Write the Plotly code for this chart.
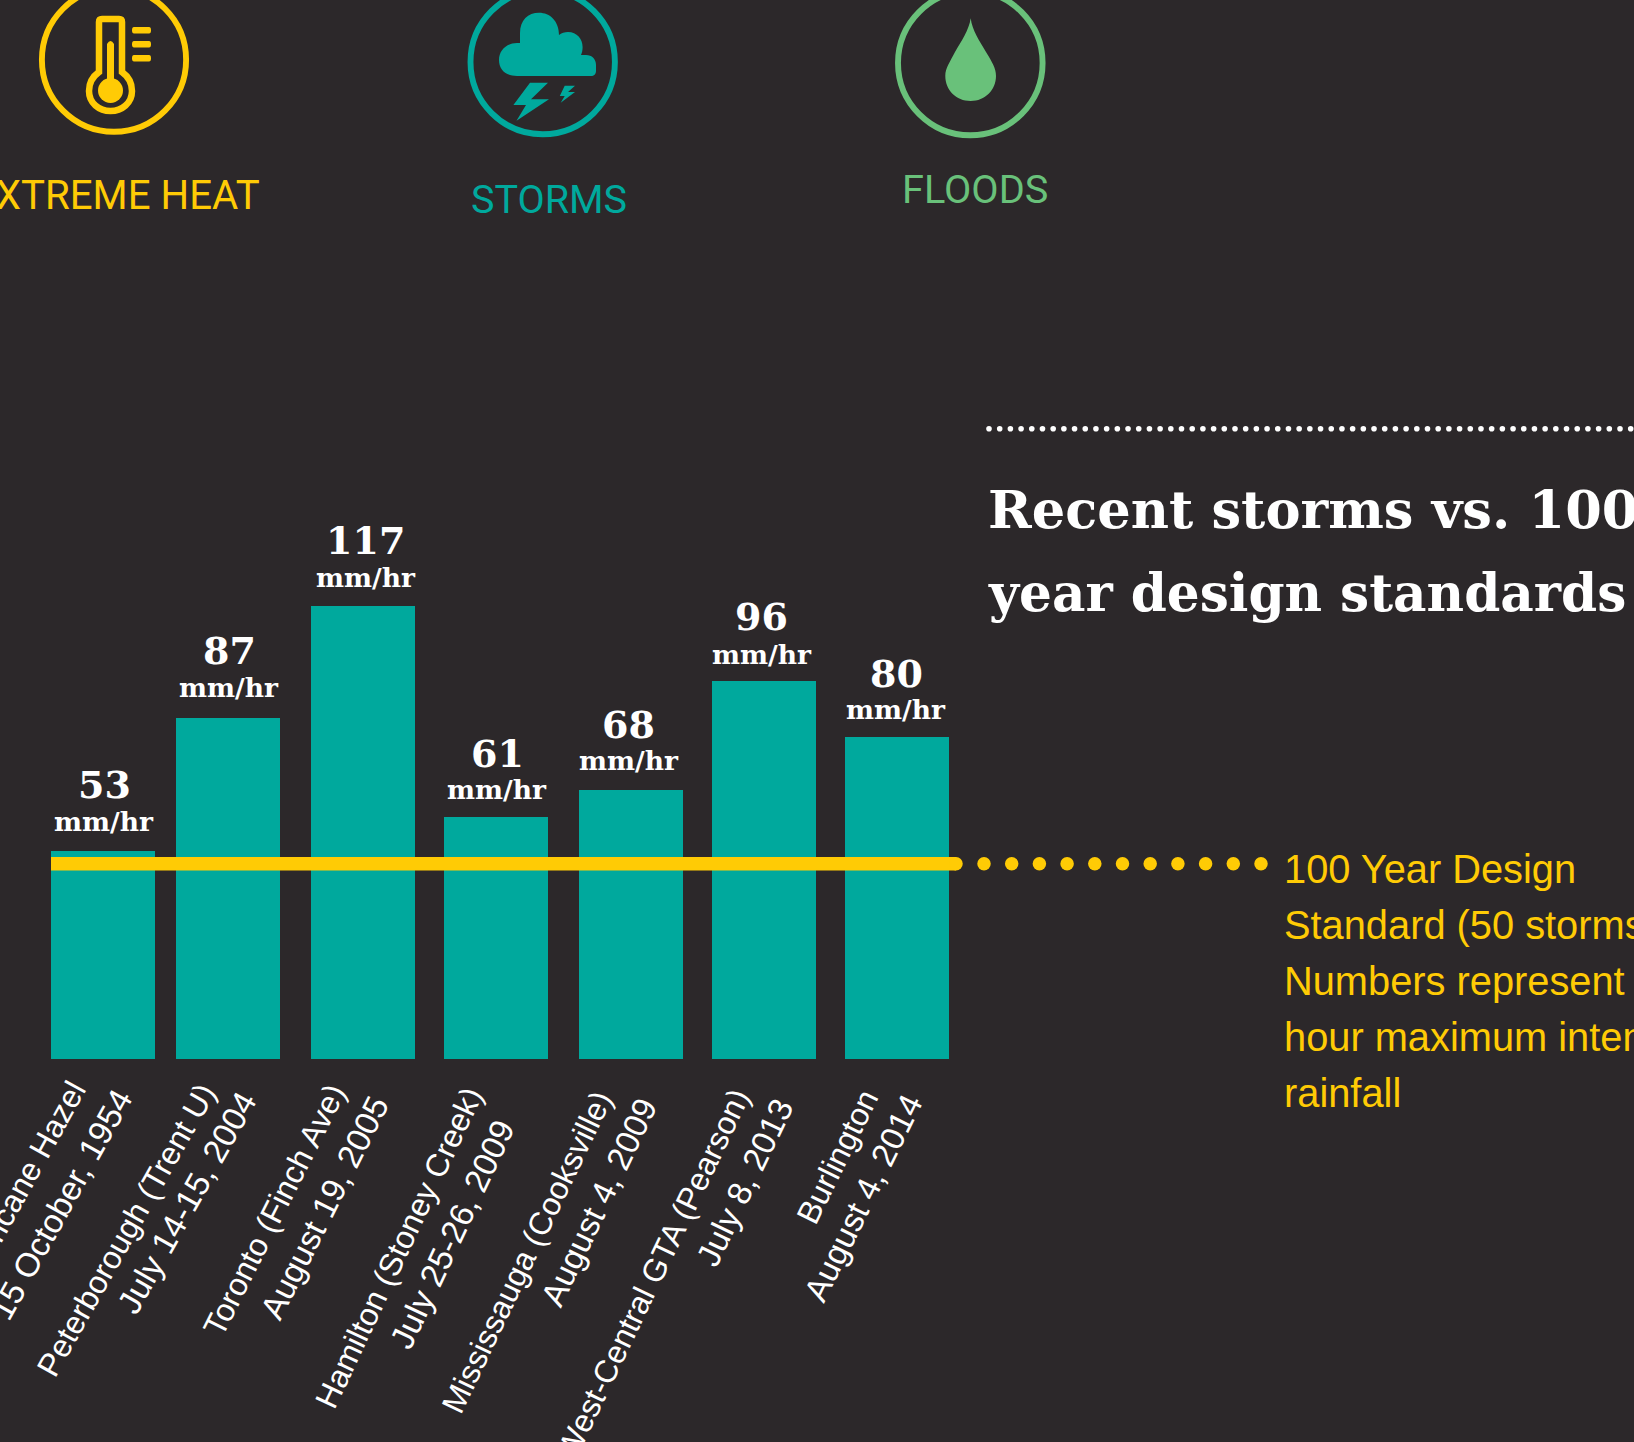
import numpy as np
import plotly.graph_objects as go

# ---------- data ----------
categories = ["Hurricane Hazel", "Peterborough (Trent U)", "Toronto (Finch Ave)",
              "Hamilton (Stoney Creek)", "Mississauga (Cooksville)",
              "West-Central GTA (Pearson)", "Burlington"]
dates = ["15 October, 1954", "July 14-15, 2004", "August 19, 2005", "July 25-26, 2009",
         "August 4, 2009", "July 8, 2013", "August 4, 2014"]
value_labels = ["53", "87", "117", "61", "68", "96", "80"]
bar_heights = [53.1, 87.1, 115.7, 61.8, 68.7, 96.55, 82.2]
design_standard = 49.8
unit = "mm/hr"
hazard_names = ["EXTREME HEAT", "STORMS", "FLOODS"]
title_lines = ["Recent storms vs. 100", "year design standards"]
note_lines = ["100 Year Design", "Standard (50 storms)", "Numbers represent 1", "hour maximum intensity", "rainfall"]

# ---------- layout constants (pixels) ----------
W, H = 1634, 1442
BG, TEAL, YEL, GRN = "#2c282a", "#00a99d", "#ffcb05", "#69c17a"
PX_PER_UNIT = 3.91
BASE_PX = 1058.5
PITCH, FIRST = 132.33, 103.0
BAR_W = 104.0
bar_left_px = [51, 176, 311, 444, 579, 712, 845]
label_px = [((21.6, 1184), (60.8, 1204)), ((126, 1229.5), (187, 1202.5)), ((274.4, 1210), (324.4, 1207)),
            ((398.8, 1248), (452, 1234)), ((527, 1252), (598.5, 1202)), ((653, 1274), (744.5, 1182)),
            ((837, 1156.5), (863, 1198.5))]
label_angle = [-61, -60.6, -63.3, -64.8, -64.4, -64.4, -63.8]
value_dx = [1, 1, 2.7, 1, -2.3, -2.3, -1]
number_dy = [0, -1, 0, 3, 1, 2, 2]
unit_dy = [0, -1, 0, 2, 0, 3, 1]

fig = go.Figure()
offsets = [(l - FIRST - i * PITCH) / PITCH for i, l in enumerate(bar_left_px)]
fig.add_trace(go.Bar(x=categories, y=bar_heights, width=BAR_W / PITCH, offset=offsets,
                     marker=dict(color=TEAL, line=dict(width=0)), showlegend=False))
fig.add_trace(go.Scatter(x=[51, 956], y=[design_standard] * 2, xaxis="x2", yaxis="y", mode="lines",
                         line=dict(color=YEL, width=13.5), showlegend=False))
fig.add_trace(go.Scatter(x=[956] + np.linspace(984, 1261, 11).tolist(),
                         y=[design_standard] * 12, xaxis="x2", yaxis="y", mode="markers",
                         marker=dict(color=YEL, size=13.5, line=dict(width=0)), showlegend=False))
dot_x = np.linspace(989, 1630.7, 61).tolist()
fig.add_trace(go.Scatter(x=dot_x, y=[428.7] * len(dot_x),
                         xaxis="x2", yaxis="y2", mode="markers",
                         marker=dict(color="white", size=5.6, line=dict(width=0)), showlegend=False))

ann = []
def text(x, y, s, size, color, family, xa="left", ya="middle", angle=0):
    ann.append(dict(x=x, y=y, xref="x2", yref="y2", text=s, showarrow=False, xanchor=xa, yanchor=ya,
                    textangle=angle, font=dict(size=size, color=color, family=family)))

SANS, SERIF, GOTH = "Liberation Sans", "DejaVu Serif", "Roboto"
text(261.5, 195, hazard_names[0], 40.2, YEL, GOTH, "right")
text(469, 199.5, hazard_names[1], 39.5, TEAL, GOTH)
text(899.5, 189.5, hazard_names[2], 39.7, GRN, GOTH)
title_size = [52.6, 51.7]
title_y = [509, 592.5]
for i, t in enumerate(title_lines):
    text(986, title_y[i], f"<b>{t}</b>", title_size[i], "white", SERIF)
for i, t in enumerate(note_lines):
    text(1282, 869 + 56 * i, t, 39.8, YEL, SANS)
for i in range(7):
    (a, b) = label_px[i]
    text(a[0], a[1], categories[i], 32, "white", SANS, "center", angle=label_angle[i])
    text(b[0], b[1], dates[i], 33.5, "white", SANS, "center", angle=label_angle[i])
    top = BASE_PX - bar_heights[i] * PX_PER_UNIT
    cx = bar_left_px[i] + BAR_W / 2 + value_dx[i]
    text(cx, top - 66 + number_dy[i], f"<b>{value_labels[i]}</b>", 38, "white", SERIF, "center")
    text(cx, top - 29 + unit_dy[i], f"<b>{unit}</b>", 26.5, "white", SERIF, "center")

shapes = []
def circ(cx, cy, r, color, lw=0, fill=None):
    shapes.append(dict(type="circle", xref="x2", yref="y2", x0=cx - r, x1=cx + r, y0=cy - r, y1=cy + r,
                       line=dict(color=color, width=lw), fillcolor=fill or "rgba(0,0,0,0)"))
def path(d, fill=None, line=None, lw=0):
    shapes.append(dict(type="path", xref="x2", yref="y2", path=d, fillcolor=fill or "rgba(0,0,0,0)",
                       line=dict(color=line or "rgba(0,0,0,0)", width=lw)))
circ(114, 59.7, 72.1, YEL, 5.9)
circ(542.7, 62, 72.2, TEAL, 5.9)
circ(970.3, 63, 72.3, GRN, 5.9)
# thermometer
path("M99 72 L99 22 Q99 19 102 19 L119 19 Q122 19 122 22 L122 72 C129 77 132 84 132 91 "
     "C132 103 122 111 110.5 111 C99 111 89 103 89 91 C89 84 92 77 99 72 Z", line=YEL, lw=6.5)
circ(110.5, 90.5, 12.5, YEL, 0, YEL)
path("M107 44 Q110.5 38 114 44 L114 82 L107 82 Z", fill=YEL)
for y0, y1 in [(27, 33.5), (41, 47.5), (55, 61.5)]:
    path(f"M134 {y0} L149 {y0} Q151 {y0} 151 {(y0+y1)/2} Q151 {y1} 149 {y1} L134 {y1} Q132 {y1} 132 {(y0+y1)/2} Q132 {y0} 134 {y0} Z", fill=YEL)
# cloud and bolts
path("M517 76 C505 76 499 69 499 60 C499 50 507 43 517 43 L520 43 L520 33 C520 20 528 12.7 539 12.7 "
     "C550 12.7 559 21 559 35 C561 33 565 32 568 32 C577 32 582.6 39 582.6 47 C582.6 50 582 53 581 55 "
     "L586 55 C592 55 596 59 596 65 L596 71 C596 74 594 76 591 76 Z", fill=TEAL)
path("M530 82.7 L548 82.7 L531 99.3 L549 99.3 L516.5 120.7 L526 105 L513.4 105 Z", fill=TEAL)
path("M564.7 85.7 L575 85.7 L568 92 L575 92 L560.7 102.7 L564.7 96 L559.8 96 Z", fill=TEAL)
# drop
path("M970.7 18.3 C972 30 980 42 986 52 C992 62 996 68 996 76 C996 90 985 101 970.7 101 "
     "C956 101 945.3 90 945.3 76 C945.3 68 950 62 955 52 C961 42 969 30 970.7 18.3 Z", fill=GRN)

axis_off = dict(showgrid=False, zeroline=False, showticklabels=False, ticks="", showline=False)
fig.update_layout(
    width=W, height=H, margin=dict(l=0, r=0, t=0, b=0), autosize=False,
    paper_bgcolor=BG, plot_bgcolor=BG, showlegend=False, bargap=0,
    annotations=ann, shapes=shapes,
    xaxis=dict(type="category", categoryorder="array", categoryarray=categories,
               range=[-FIRST / PITCH, (W - FIRST) / PITCH], domain=[0, 1], **axis_off),
    yaxis=dict(range=[-(H - BASE_PX) / PX_PER_UNIT, BASE_PX / PX_PER_UNIT], domain=[0, 1], **axis_off),
    xaxis2=dict(range=[0, W], overlaying="x", anchor="y", domain=[0, 1], **axis_off),
    yaxis2=dict(range=[H, 0], overlaying="y", anchor="x", domain=[0, 1], **axis_off),
)
fig.write_html("out.html", config=dict(displayModeBar=False),
               post_script="document.body.style.margin='0';document.body.style.background='#2c282a';"
                           "document.documentElement.style.overflow='hidden';")
